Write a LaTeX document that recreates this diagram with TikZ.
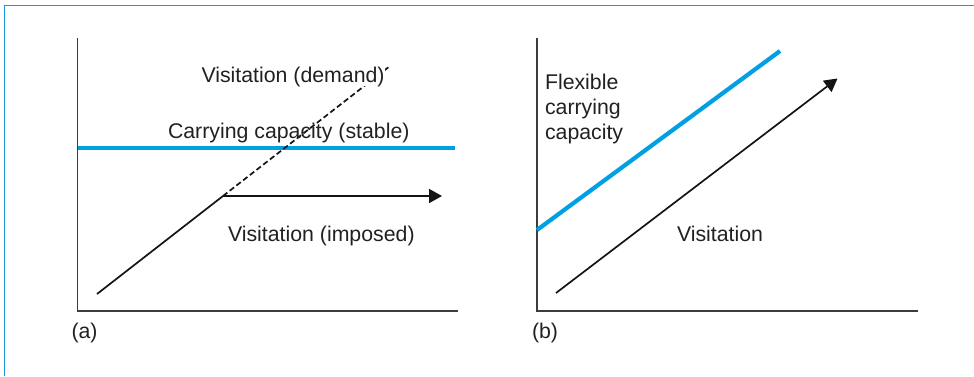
\documentclass[tikz,border=0pt]{standalone}
\usepackage{fontspec}
\setmainfont{Liberation Sans}
\usetikzlibrary{arrows.meta}
\definecolor{ccblue}{RGB}{0,160,227}
\definecolor{framebl}{RGB}{30,155,215}
\definecolor{axisgray}{RGB}{60,60,60}
\begin{document}
\begin{tikzpicture}[x=1pt,y=-1pt,
  every node/.style={inner sep=0pt,outer sep=0pt,font=\fontsize{21.3}{25}\selectfont,text=black!87},
  lbl/.style={anchor=base west},
  axisline/.style={draw=axisgray,line width=1.8pt},
  capline/.style={draw=ccblue,line width=4.2pt},
  visline/.style={draw=black!92,line width=1.7pt},
  demandline/.style={draw=black!92,line width=1.7pt,dash pattern=on 5.5pt off 3pt},
  visarrow/.style={visline,-{Triangle[length=13pt,width=14pt]}},
  frameline/.style={draw=framebl,line width=1.4pt}]
\useasboundingbox (0,0) rectangle (974,376);
% open frame along the top and left edges
\draw[frameline] (974,5.5) -- (4.5,5.5) -- (4.5,376);

% ---------- panel (a): stable carrying capacity ----------
\coordinate (aTop) at (77.5,38);
\coordinate (aO) at (77.5,311);
\coordinate (aEnd) at (458,311);
\draw[axisline] (aTop) -- (aO) -- (aEnd);
\coordinate (ccL) at (77.5,148);
\coordinate (ccR) at (455,148);
\draw[capline] (ccL) -- (ccR);
\coordinate (vStart) at (97,294);
\coordinate (vCap) at (223,196);
\coordinate (vDem) at (390,66);
\coordinate (vImp) at (442,196);
\draw[visline] (vStart) -- (vCap);
\draw[demandline] (vCap) -- (vDem);
\draw[visarrow] (vCap) -- (vImp);
% the demand label sits on a white patch that masks the dashed line
\node[lbl,fill=white] (demand) at (201.5,82) {Visitation (demand)};
\node[lbl] (stable) at (168,138) {Carrying capacity (stable)};
\node[lbl] (imposed) at (228,241) {Visitation (imposed)};
\node[lbl] (pa) at (71.5,338) {(a)};

% ---------- panel (b): flexible carrying capacity ----------
\coordinate (bTop) at (537,38);
\coordinate (bO) at (537,311);
\coordinate (bEnd) at (918,311);
\draw[axisline] (bTop) -- (bO) -- (bEnd);
\coordinate (fcL) at (537,230);
\coordinate (fcR) at (780,51);
\draw[capline] (fcL) -- (fcR);
\coordinate (bvStart) at (556,293);
\coordinate (bvEnd) at (837.5,78.5);
\draw[visarrow] (bvStart) -- (bvEnd);
\node[align=left,anchor=north west] (flex) at (545,74.5) {Flexible\\carrying\\capacity};
\node[lbl] (bvis) at (677,241) {Visitation};
\node[lbl] (pb) at (532,338) {(b)};
\end{tikzpicture}
\end{document}
